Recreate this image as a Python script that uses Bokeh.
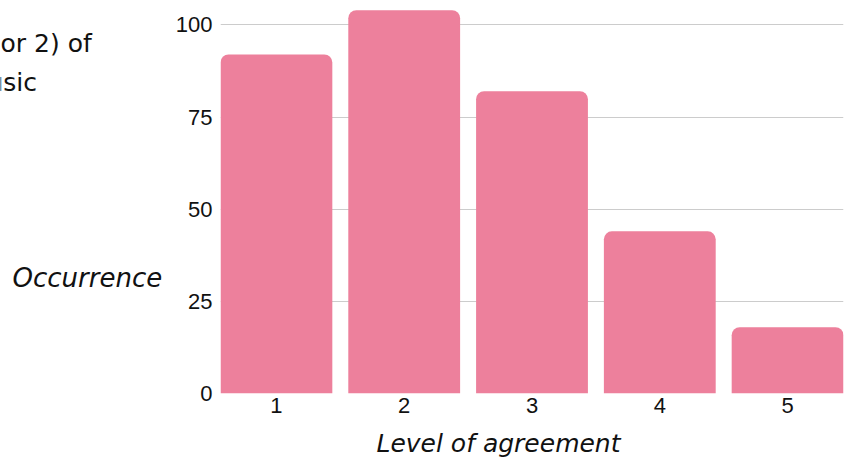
from bokeh.plotting import figure
from bokeh.models import Range1d, FixedTicker, ColumnDataSource
from bokeh.layouts import column, row
from bokeh.core.properties import value
from bokeh.embed import file_html
from bokeh.resources import INLINE

# Survey answers: how many respondents picked each level of agreement
levels = [1, 2, 3, 4, 5]
tick_labels = ["1", "2", "3", "4", "5"]
counts = [92, 104, 82, 44, 18]
y_ticks = [0, 25, 50, 75, 100]

BAR_COLOR = "#ED809C"
GRID_COLOR = "#CCCCCC"
TEXT_COLOR = "#111111"
TEXT_FONT = "DejaVu Sans"
TICK_FONT = "Liberation Sans"

W, H = 850, 462
SIDE_W = 168                  # strip holding the headline and the y caption
CHART_H = 425                 # chart row; the x caption strip sits below it
TOP_B, BOTTOM_B = 6, 32       # borders above / below the plotting frame

# ---- main chart -------------------------------------------------------
p = figure(
    width=W - SIDE_W, height=CHART_H, title=None,
    x_range=Range1d(0.5625, 5.4375), y_range=Range1d(0, 105),
    output_backend="svg", toolbar_location=None,
    min_border_left=52, min_border_right=7,
    min_border_top=TOP_B, min_border_bottom=BOTTOM_B,
)
p.outline_line_color = None

src = ColumnDataSource(dict(level=levels, count=counts))
p.vbar(x="level", top="count", width=0.875, source=src,
       fill_color=BAR_COLOR, line_color=None,
       border_radius=(8, 8, 0, 0))

p.xaxis.ticker = FixedTicker(ticks=levels)
p.xaxis.major_label_overrides = {lv: t for lv, t in zip(levels, tick_labels)}
p.yaxis.ticker = FixedTicker(ticks=y_ticks)
for ax in (p.xaxis[0], p.yaxis[0]):
    ax.axis_line_color = None
    ax.major_tick_line_color = None
    ax.minor_tick_line_color = None
    ax.major_tick_out = 0
    ax.major_tick_in = 0
    ax.major_label_text_font = TICK_FONT
    ax.major_label_text_font_size = "22px"
    ax.major_label_text_color = TEXT_COLOR
p.xaxis.major_label_standoff = 4
p.yaxis.major_label_standoff = 8

p.xgrid.grid_line_color = None
p.ygrid.grid_line_color = GRID_COLOR
p.ygrid.grid_line_width = 1


# ---- text strips: canvas pixel coordinates, y pointing down ------------
def text_strip(width, height, y_top, y_bottom, b_top=0, b_bottom=0):
    f = figure(
        width=width, height=height, title=None,
        x_range=Range1d(0, width), y_range=Range1d(y_bottom, y_top),
        output_backend="svg", toolbar_location=None,
        x_axis_location=None, y_axis_location=None,
        min_border_left=0, min_border_right=0,
        min_border_top=b_top, min_border_bottom=b_bottom,
    )
    f.outline_line_color = None
    f.grid.visible = False
    return f


side = text_strip(SIDE_W, CHART_H, TOP_B, CHART_H - BOTTOM_B, TOP_B, BOTTOM_B)
side.text(x=[0, -13], y=[42.5, 81.5], text=["or 2) of", "usic"],
          text_font=value(TEXT_FONT), text_font_size="25px",
          text_color=TEXT_COLOR, text_baseline="alphabetic")
side.text(x=[12], y=[277], text=["Occurrence"],
          text_font=value(TEXT_FONT), text_font_size="26px",
          text_font_style="italic", text_color=TEXT_COLOR,
          text_baseline="alphabetic")

bottom = text_strip(W, H - CHART_H, CHART_H, H)
bottom.text(x=[498], y=[442.5], text=["Level of agreement"],
            text_font=value(TEXT_FONT), text_font_size="25px",
            text_font_style="italic", text_color=TEXT_COLOR,
            text_align="center", text_baseline="alphabetic")

layout = column(row(side, p, spacing=0), bottom, spacing=0)
open("out.html", "w").write(file_html(layout, INLINE))
